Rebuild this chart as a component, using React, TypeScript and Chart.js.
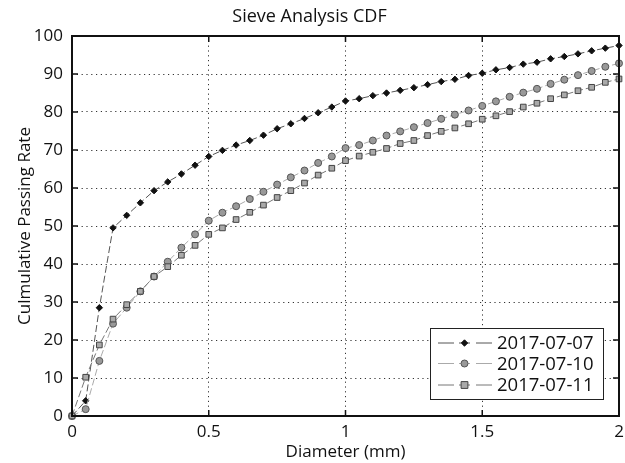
import React, { useEffect, useRef } from "react";
import { Chart, registerables } from "chart.js";

Chart.register(...registerables);

const diameters = [
  0, 0.05, 0.1, 0.15, 0.2, 0.25, 0.3, 0.35, 0.4, 0.45, 0.5, 0.55, 0.6, 0.65, 0.7, 0.75, 0.8, 0.85, 0.9, 0.95,
  1.0, 1.05, 1.1, 1.15, 1.2, 1.25, 1.3, 1.35, 1.4, 1.45, 1.5, 1.55, 1.6, 1.65, 1.7, 1.75, 1.8, 1.85, 1.9, 1.95, 2.0,
];

const series0707 = [
  0, 4.0, 28.5, 49.5, 52.8, 56.1, 59.3, 61.6, 63.7, 66.0, 68.3, 69.9, 71.3, 72.5, 73.9, 75.6, 76.9, 78.3, 79.8, 81.3,
  82.9, 83.5, 84.3, 85.0, 85.7, 86.4, 87.2, 88.0, 88.6, 89.6, 90.2, 91.1, 91.7, 92.6, 93.1, 94.0, 94.6, 95.3, 96.1, 96.8, 97.5,
];

const series0710 = [
  0, 1.8, 14.5, 24.3, 28.5, 32.8, 36.7, 40.6, 44.3, 47.8, 51.4, 53.5, 55.2, 57.1, 59.0, 60.9, 62.8, 64.6, 66.6, 68.3,
  70.5, 71.3, 72.5, 73.8, 74.9, 76.0, 77.1, 78.2, 79.3, 80.4, 81.6, 82.8, 84.0, 85.1, 86.1, 87.4, 88.5, 89.7, 90.8, 91.9, 92.8,
];

const series0711 = [
  0, 10.2, 18.7, 25.5, 29.3, 32.8, 36.7, 39.3, 42.3, 44.9, 47.8, 49.5, 51.7, 53.6, 55.5, 57.5, 59.3, 61.3, 63.4, 65.2,
  67.2, 68.4, 69.4, 70.4, 71.7, 72.5, 73.8, 74.9, 75.8, 76.9, 78.1, 79.0, 80.1, 81.3, 82.3, 83.5, 84.5, 85.6, 86.5, 87.8, 88.7,
];

const seriesLabels = ["2017-07-07", "2017-07-10", "2017-07-11"];
const xTickValues = [0, 0.5, 1, 1.5, 2];
const xTickLabels = ["0", "0.5", "1", "1.5", "2"];
const yTickValues = [0, 10, 20, 30, 40, 50, 60, 70, 80, 90, 100];

const FONT = "'Open Sans', 'DejaVu Sans', sans-serif";

function drawMarker(ctx: CanvasRenderingContext2D, style: string, x: number, y: number, r: number, fill: string, stroke: string) {
  ctx.save();
  ctx.setLineDash([]);
  ctx.fillStyle = fill;
  ctx.strokeStyle = stroke;
  ctx.lineWidth = 1;
  ctx.beginPath();
  if (style === "rectRot") {
    ctx.moveTo(x, y - r);
    ctx.lineTo(x + r, y);
    ctx.lineTo(x, y + r);
    ctx.lineTo(x - r, y);
    ctx.closePath();
  } else if (style === "circle") {
    ctx.arc(x, y, r, 0, Math.PI * 2);
  } else {
    const h = r * 0.85;
    ctx.rect(x - h, y - h, h * 2, h * 2);
  }
  ctx.fill();
  ctx.stroke();
  ctx.restore();
}

const framePlugin = {
  id: "matlabFrame",
  afterDraw(chart: any) {
    const { ctx, chartArea, scales } = chart;
    const { left, right, top, bottom } = chartArea;
    const xs = scales.x;
    const ys = scales.y;
    ctx.save();
    ctx.setLineDash([]);
    ctx.strokeStyle = "#111";
    ctx.lineWidth = 1.5;
    const tl = 6;
    ctx.beginPath();
    xTickValues.forEach((v) => {
      const px = xs.getPixelForValue(v);
      ctx.moveTo(px, bottom);
      ctx.lineTo(px, bottom - tl);
      ctx.moveTo(px, top);
      ctx.lineTo(px, top + tl);
    });
    yTickValues.forEach((v) => {
      const py = ys.getPixelForValue(v);
      ctx.moveTo(left, py);
      ctx.lineTo(left + tl, py);
      ctx.moveTo(right, py);
      ctx.lineTo(right - tl, py);
    });
    ctx.stroke();
    ctx.lineWidth = 2;
    ctx.strokeRect(left, top, right - left, bottom - top);

    // legend inside plot area
    const bw = 173;
    const bh = 71;
    const bx = right - 189;
    const by = bottom - 88;
    ctx.fillStyle = "#fff";
    ctx.fillRect(bx, by, bw, bh);
    ctx.lineWidth = 1;
    ctx.strokeStyle = "#222";
    ctx.strokeRect(bx + 0.5, by + 0.5, bw, bh);
    const rows = [by + 15, by + 35.5, by + 57];
    chart.data.datasets.forEach((ds: any, i: number) => {
      const yy = rows[i];
      ctx.save();
      ctx.strokeStyle = ds.borderColor;
      ctx.lineWidth = 1;
      ctx.beginPath();
      ctx.moveTo(bx + 8, yy);
      ctx.lineTo(bx + 24, yy);
      ctx.moveTo(bx + 29, yy);
      ctx.lineTo(bx + 40, yy);
      ctx.moveTo(bx + 46, yy);
      ctx.lineTo(bx + 62, yy);
      ctx.stroke();
      ctx.restore();
      drawMarker(ctx, ds.pointStyle, bx + 34.5, yy, ds.pointRadius, ds.pointBackgroundColor, ds.pointBorderColor);
      ctx.fillStyle = "#111";
      ctx.font = `18.5px ${FONT}`;
      ctx.textBaseline = "middle";
      ctx.textAlign = "left";
      ctx.fillText(ds.label, bx + 67, yy + 1);
    });
    ctx.restore();
  },
};

export default function App() {
  const canvasRef = useRef<HTMLCanvasElement | null>(null);

  useEffect(() => {
    const canvas = canvasRef.current;
    if (!canvas) return;
    const mk = (vals: number[]) => diameters.map((d, i) => ({ x: d, y: vals[i] }));
    const chart = new Chart(canvas, {
      type: "line",
      data: {
        datasets: [
          {
            label: seriesLabels[0],
            data: mk(series0707),
            borderColor: "#555",
            borderWidth: 1,
            borderDash: [7, 3],
            pointStyle: "rectRot",
            pointRadius: 3.2,
            pointBackgroundColor: "#111",
            pointBorderColor: "#111",
            pointBorderWidth: 1,
            tension: 0,
            clip: false,
            order: 3,
          },
          {
            label: seriesLabels[1],
            data: mk(series0710),
            borderColor: "#aaa",
            borderWidth: 1,
            borderDash: [7, 3],
            pointStyle: "circle",
            pointRadius: 3.5,
            pointBackgroundColor: "#999",
            pointBorderColor: "#555",
            pointBorderWidth: 1,
            tension: 0,
            clip: false,
            order: 2,
          },
          {
            label: seriesLabels[2],
            data: mk(series0711),
            borderColor: "#777",
            borderWidth: 1,
            borderDash: [7, 3],
            pointStyle: "rect",
            pointRadius: 4,
            pointBackgroundColor: "#aaa",
            pointBorderColor: "#444",
            pointBorderWidth: 1,
            tension: 0,
            clip: false,
            order: 1,
          },
        ],
      },
      options: {
        responsive: false,
        animation: false,
        events: [],
        layout: { padding: { left: 0, right: 6, top: 0, bottom: 0 } },
        plugins: {
          legend: { display: false },
          tooltip: { enabled: false },
          title: {
            display: true,
            text: "Sieve Analysis CDF",
            color: "#111",
            font: { family: FONT, size: 18, weight: "normal" },
            padding: { top: 6.5, bottom: 7.9 },
          },
        },
        scales: {
          x: {
            type: "linear",
            min: 0,
            max: 2,
            afterFit: (s: any) => {
              s.height = 47;
              s.paddingRight = 0;
              s.paddingLeft = 0;
            },
            afterBuildTicks: (s: any) => {
              s.ticks = xTickValues.map((v) => ({ value: v }));
            },
            ticks: {
              color: "#111",
              font: { family: FONT, size: 17 },
              padding: 6,
              maxRotation: 0,
              autoSkip: false,
              callback: (_v: any, i: number) => xTickLabels[i],
            },
            grid: { color: "#333", lineWidth: 1, drawTicks: false },
            border: { display: false, dash: [1.2, 3.6] },
            title: {
              display: true,
              text: "Diameter (mm)",
              color: "#111",
              font: { family: FONT, size: 17 },
              padding: { top: 0, bottom: 1 },
            },
          },
          y: {
            type: "linear",
            min: 0,
            max: 100,
            afterFit: (s: any) => {
              s.width = 72;
            },
            afterBuildTicks: (s: any) => {
              s.ticks = yTickValues.map((v) => ({ value: v }));
            },
            ticks: {
              color: "#111",
              font: { family: FONT, size: 17 },
              padding: 9,
              autoSkip: false,
            },
            grid: { color: "#333", lineWidth: 1, drawTicks: false },
            border: { display: false, dash: [1.2, 3.6] },
            title: {
              display: true,
              text: "Culmulative Passing Rate",
              color: "#111",
              font: { family: FONT, size: 17 },
              padding: { top: 15, bottom: 0 },
            },
          },
        },
      },
      plugins: [framePlugin],
    } as any);
    return () => chart.destroy();
  }, []);

  return (
    <div style={{ position: "fixed", left: 0, top: 0, width: 625, height: 463, background: "#fff" }}>
      <canvas ref={canvasRef} width={625} height={463} style={{ display: "block" }} />
    </div>
  );
}
